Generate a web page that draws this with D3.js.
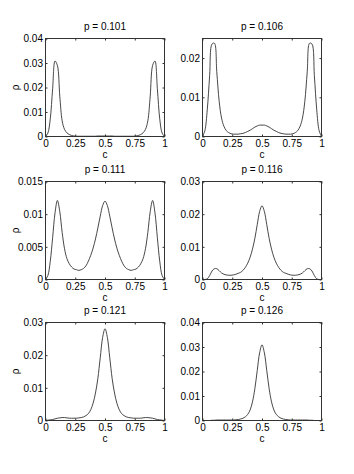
<!DOCTYPE html>
<html>
<head>
<meta charset="utf-8">
<script src="https://cdn.jsdelivr.net/npm/d3@7"></script>
<style>
  body { margin: 0; background: #fff; }
  text { font-family: "Liberation Sans", Arial, sans-serif; }
</style>
</head>
<body>
<div id="chart"></div>
<script>
// c grid the curves are read on
const cValues = [0, 0.02, 0.04, 0.06, 0.08, 0.1, 0.12, 0.14, 0.16, 0.18, 0.2, 0.22, 0.24, 0.26, 0.28, 0.3, 0.32, 0.34, 0.36, 0.38, 0.4, 0.42, 0.44, 0.46, 0.48, 0.5,
  0.52, 0.54, 0.56, 0.58, 0.6, 0.62, 0.64, 0.66, 0.68, 0.7, 0.72, 0.74, 0.76, 0.78, 0.8, 0.82, 0.84, 0.86, 0.88, 0.9, 0.92, 0.94, 0.96, 0.98, 1];

const pLabels = ["p = 0.101", "p = 0.106", "p = 0.111", "p = 0.116", "p = 0.121", "p = 0.126"];

// rho(c) for each p
const rho101 = [0, 0.0014, 0.0072, 0.0195, 0.0308, 0.029, 0.0165, 0.0064, 0.0029, 0.0015, 0.0008, 0.0004, 0.0002, 0.0001, 0.0001, 0.0001, 0.0001, 0.0001, 0.0001, 0.0001, 0.0001, 0.0001, 0.0002, 0.0002, 0.0002, 0.0002,
  0.0002, 0.0002, 0.0002, 0.0001, 0.0001, 0.0001, 0.0001, 0.0001, 0.0001, 0.0001, 0.0001, 0.0001, 0.0002, 0.0004, 0.0008, 0.0015, 0.0029, 0.0064, 0.0165, 0.029, 0.0308, 0.0195, 0.0072, 0.0014, 0];
const rho106 = [0, 0.0015, 0.0068, 0.0155, 0.0236, 0.0238, 0.0165, 0.009, 0.0047, 0.0026, 0.0015, 0.001, 0.0007, 0.0006, 0.0006, 0.0006, 0.0007, 0.0008, 0.001, 0.0013, 0.0016, 0.002, 0.0024, 0.0027, 0.0029, 0.0029,
  0.0029, 0.0027, 0.0024, 0.002, 0.0016, 0.0013, 0.001, 0.0008, 0.0007, 0.0006, 0.0006, 0.0006, 0.0007, 0.001, 0.0015, 0.0026, 0.0047, 0.009, 0.0165, 0.0238, 0.0236, 0.0155, 0.0068, 0.0015, 0];
const rho111 = [0, 0.0006, 0.0028, 0.0064, 0.0102, 0.0121, 0.0104, 0.0072, 0.0047, 0.0032, 0.0024, 0.0019, 0.0016, 0.0015, 0.0014, 0.0015, 0.0017, 0.0021, 0.0028, 0.0037, 0.0048, 0.0062, 0.0079, 0.0097, 0.0113, 0.012,
  0.0113, 0.0097, 0.0079, 0.0062, 0.0048, 0.0037, 0.0028, 0.0021, 0.0017, 0.0015, 0.0014, 0.0015, 0.0016, 0.0019, 0.0024, 0.0032, 0.0047, 0.0072, 0.0104, 0.0121, 0.0102, 0.0064, 0.0028, 0.0006, 0];
const rho116 = [0, 0, 0.0002, 0.0012, 0.0026, 0.0033, 0.0033, 0.0027, 0.002, 0.0016, 0.0014, 0.0013, 0.0013, 0.0014, 0.0016, 0.0019, 0.0022, 0.0028, 0.0037, 0.005, 0.0068, 0.0093, 0.0126, 0.0168, 0.0208, 0.0226,
  0.0208, 0.0168, 0.0126, 0.0093, 0.0068, 0.005, 0.0037, 0.0028, 0.0022, 0.0019, 0.0016, 0.0014, 0.0013, 0.0013, 0.0014, 0.0016, 0.002, 0.0027, 0.0033, 0.0033, 0.0026, 0.0012, 0.0002, 0, 0];
const rho121 = [0, 0.0001, 0.0002, 0.0003, 0.0005, 0.0007, 0.0008, 0.0009, 0.0009, 0.0008, 0.0007, 0.0007, 0.0007, 0.0007, 0.0008, 0.0009, 0.0011, 0.0015, 0.0021, 0.0033, 0.0053, 0.0084, 0.0129, 0.0192, 0.0254, 0.0281,
  0.0254, 0.0192, 0.0129, 0.0084, 0.0053, 0.0033, 0.0021, 0.0015, 0.0011, 0.0009, 0.0008, 0.0007, 0.0007, 0.0007, 0.0007, 0.0008, 0.0009, 0.0009, 0.0008, 0.0007, 0.0005, 0.0003, 0.0002, 0.0001, 0];
const rho126 = [0, 0, 0, 0, 0.0001, 0.0001, 0.0002, 0.0002, 0.0002, 0.0002, 0.0002, 0.0002, 0.0002, 0.0002, 0.0003, 0.0004, 0.0006, 0.0009, 0.0015, 0.0025, 0.0043, 0.0076, 0.013, 0.0204, 0.0276, 0.0309,
  0.0276, 0.0204, 0.013, 0.0076, 0.0043, 0.0025, 0.0015, 0.0009, 0.0006, 0.0004, 0.0003, 0.0002, 0.0002, 0.0002, 0.0002, 0.0002, 0.0002, 0.0002, 0.0002, 0.0001, 0.0001, 0, 0, 0, 0];

const rhoSeries = [rho101, rho106, rho111, rho116, rho121, rho126];
const yMax = [0.04, 0.025, 0.015, 0.03, 0.03, 0.04];
const yTicks = [
  [0, 0.01, 0.02, 0.03, 0.04],
  [0, 0.01, 0.02],
  [0, 0.005, 0.01, 0.015],
  [0, 0.01, 0.02, 0.03],
  [0, 0.01, 0.02, 0.03],
  [0, 0.01, 0.02, 0.03, 0.04]
];
const xTicks = [0, 0.25, 0.5, 0.75, 1];

let colX = [45.5, 202.5];
let rowY = [38.5, 181.5, 322.5];
let pw = 119, ph = 98;
let font = '"Liberation Sans", Arial, sans-serif';

let svg = d3.select("#chart")
  .append("svg")
  .attr("width", 354)
  .attr("height", 474);

svg.append("rect").attr("width", 354).attr("height", 474).attr("fill", "#fff");

rhoSeries.forEach(function(rho, i) {
  let col = i % 2, row = Math.floor(i / 2);
  let g = svg.append("g")
    .attr("transform", "translate(" + colX[col] + "," + rowY[row] + ")");

  let x = d3.scaleLinear().domain([0, 1]).range([0, pw]);
  let y = d3.scaleLinear().domain([0, yMax[i]]).range([ph, 0]);

  // ticks point inwards, matlab style, on all four sides
  g.append("g")
    .attr("transform", "translate(0," + ph + ")")
    .call(d3.axisBottom(x).tickValues(xTicks).tickFormat(d => String(d))
      .tickSize(-2).tickSizeOuter(0).tickPadding(3.5));
  g.append("g")
    .call(d3.axisTop(x).tickValues(xTicks).tickFormat("").tickSize(-2).tickSizeOuter(0));
  g.append("g")
    .call(d3.axisLeft(y).tickValues(yTicks[i]).tickFormat(d => String(d))
      .tickSize(-2).tickSizeOuter(0).tickPadding(2.5));
  g.append("g")
    .attr("transform", "translate(" + pw + ",0)")
    .call(d3.axisRight(y).tickValues(yTicks[i]).tickFormat("").tickSize(-2).tickSizeOuter(0));

  g.selectAll(".domain").remove();
  g.selectAll(".tick line").attr("stroke", "#333");
  g.selectAll(".tick text")
    .attr("fill", "#000")
    .attr("font-size", 10)
    .attr("font-family", font);

  g.append("clipPath").attr("id", "clip" + i)
    .append("rect").attr("width", pw).attr("height", ph);

  let line = d3.line()
    .x((d, j) => x(cValues[j]))
    .y(d => y(d))
    .curve(d3.curveCatmullRom.alpha(0.5));

  g.append("path")
    .datum(rho)
    .attr("clip-path", "url(#clip" + i + ")")
    .attr("d", line)
    .attr("fill", "none")
    .attr("stroke", "#333")
    .attr("stroke-width", 0.9);

  g.append("rect")
    .attr("width", pw)
    .attr("height", ph)
    .attr("fill", "none")
    .attr("stroke", "#333")
    .attr("stroke-width", 1);

  g.append("text")
    .attr("x", pw / 2)
    .attr("y", -8.5)
    .attr("text-anchor", "middle")
    .attr("font-size", 10)
    .text(pLabels[i]);

  g.append("text")
    .attr("x", pw / 2)
    .attr("y", ph + 21.5)
    .attr("text-anchor", "middle")
    .attr("font-size", 10)
    .text("c");

  if (col === 0) {
    g.append("text")
      .attr("transform", "translate(" + (19 - colX[0]) + "," + (ph / 2) + ") rotate(-90)")
      .attr("text-anchor", "middle")
      .attr("font-size", 10)
      .text("ρ");
  }
});
</script>
</body>
</html>
